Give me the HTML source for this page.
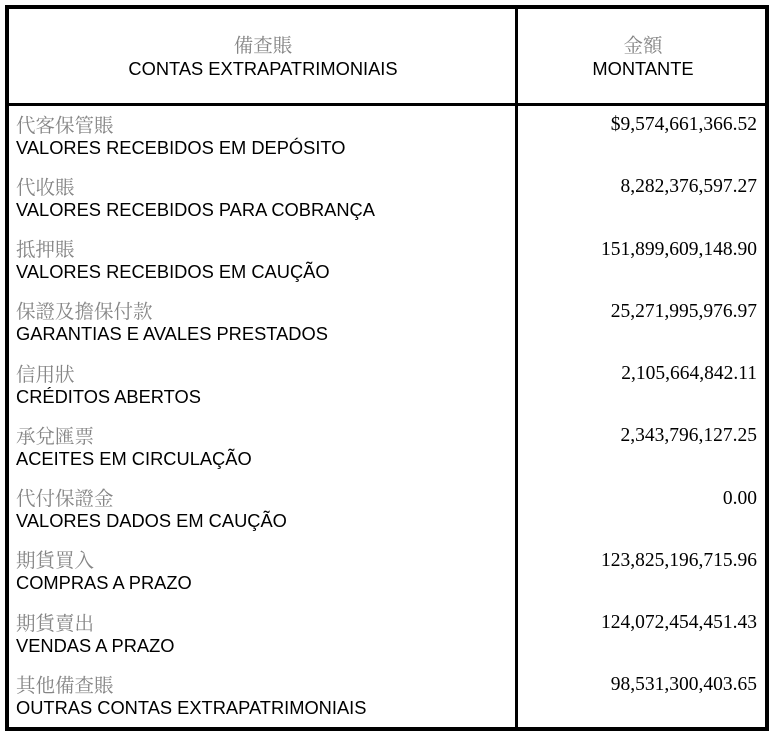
<!DOCTYPE html>
<html>
<head>
<meta charset="utf-8">
<style>
  html, body { margin:0; padding:0; background:#fff; }
  body { width:783px; height:737px; position:relative; overflow:hidden; }
  .box { position:absolute; left:5px; top:5px; width:764px; height:726px; border:4px solid #000; box-sizing:border-box; }
  .vline { position:absolute; left:515px; top:5px; width:3px; height:726px; background:#000; }
  .hline { position:absolute; left:5px; top:103px; width:764px; height:3px; background:#000; }
  .zh { position:absolute; font-family:"Liberation Serif","Noto Serif CJK SC",serif; font-size:19.5px; line-height:19.5px; color:#858585; white-space:nowrap; }
  .pt { position:absolute; font-family:"Liberation Sans",Arial,sans-serif; font-size:18.3px; line-height:20px; color:#000; white-space:nowrap; }
  .num { position:absolute; right:26px; font-family:"Liberation Serif","Times New Roman",serif; font-size:19.5px; line-height:20px; color:#000; white-space:nowrap; text-align:right; }
  .c1 { left:9px; width:508px; text-align:center; }
  .c2 { left:518px; width:250px; text-align:center; }
</style>
</head>
<body>
<div class="box"></div>
<div class="vline"></div>
<div class="hline"></div>

<div class="zh c1" style="top:36.6px;">備查賬</div>
<div class="pt c1" style="top:58.6px;">CONTAS EXTRAPATRIMONIAIS</div>
<div class="zh c2" style="top:36.6px;">金額</div>
<div class="pt c2" style="top:58.6px;">MONTANTE</div>

<div class="zh" style="left:16px;top:116.6px;">代客保管賬</div>
<div class="pt" style="left:16px;top:137.6px;">VALORES RECEBIDOS EM DEPÓSITO</div>
<div class="num" style="top:115.1px;">$9,574,661,366.52</div>

<div class="zh" style="left:16px;top:178.85px;">代收賬</div>
<div class="pt" style="left:16px;top:199.85px;">VALORES RECEBIDOS PARA COBRANÇA</div>
<div class="num" style="top:177.35px;">8,282,376,597.27</div>

<div class="zh" style="left:16px;top:241.1px;">抵押賬</div>
<div class="pt" style="left:16px;top:262.1px;">VALORES RECEBIDOS EM CAUÇÃO</div>
<div class="num" style="top:239.6px;">151,899,609,148.90</div>

<div class="zh" style="left:16px;top:303.35px;">保證及擔保付款</div>
<div class="pt" style="left:16px;top:324.35px;">GARANTIAS E AVALES PRESTADOS</div>
<div class="num" style="top:301.85px;">25,271,995,976.97</div>

<div class="zh" style="left:16px;top:365.6px;">信用狀</div>
<div class="pt" style="left:16px;top:386.6px;">CRÉDITOS ABERTOS</div>
<div class="num" style="top:364.1px;">2,105,664,842.11</div>

<div class="zh" style="left:16px;top:427.85px;">承兌匯票</div>
<div class="pt" style="left:16px;top:448.85px;">ACEITES EM CIRCULAÇÃO</div>
<div class="num" style="top:426.35px;">2,343,796,127.25</div>

<div class="zh" style="left:16px;top:490.1px;">代付保證金</div>
<div class="pt" style="left:16px;top:511.1px;">VALORES DADOS EM CAUÇÃO</div>
<div class="num" style="top:488.6px;">0.00</div>

<div class="zh" style="left:16px;top:552.35px;">期貨買入</div>
<div class="pt" style="left:16px;top:573.35px;">COMPRAS A PRAZO</div>
<div class="num" style="top:550.85px;">123,825,196,715.96</div>

<div class="zh" style="left:16px;top:614.6px;">期貨賣出</div>
<div class="pt" style="left:16px;top:635.6px;">VENDAS A PRAZO</div>
<div class="num" style="top:613.1px;">124,072,454,451.43</div>

<div class="zh" style="left:16px;top:676.85px;">其他備查賬</div>
<div class="pt" style="left:16px;top:697.85px;">OUTRAS CONTAS EXTRAPATRIMONIAIS</div>
<div class="num" style="top:675.35px;">98,531,300,403.65</div>
</body>
</html>
